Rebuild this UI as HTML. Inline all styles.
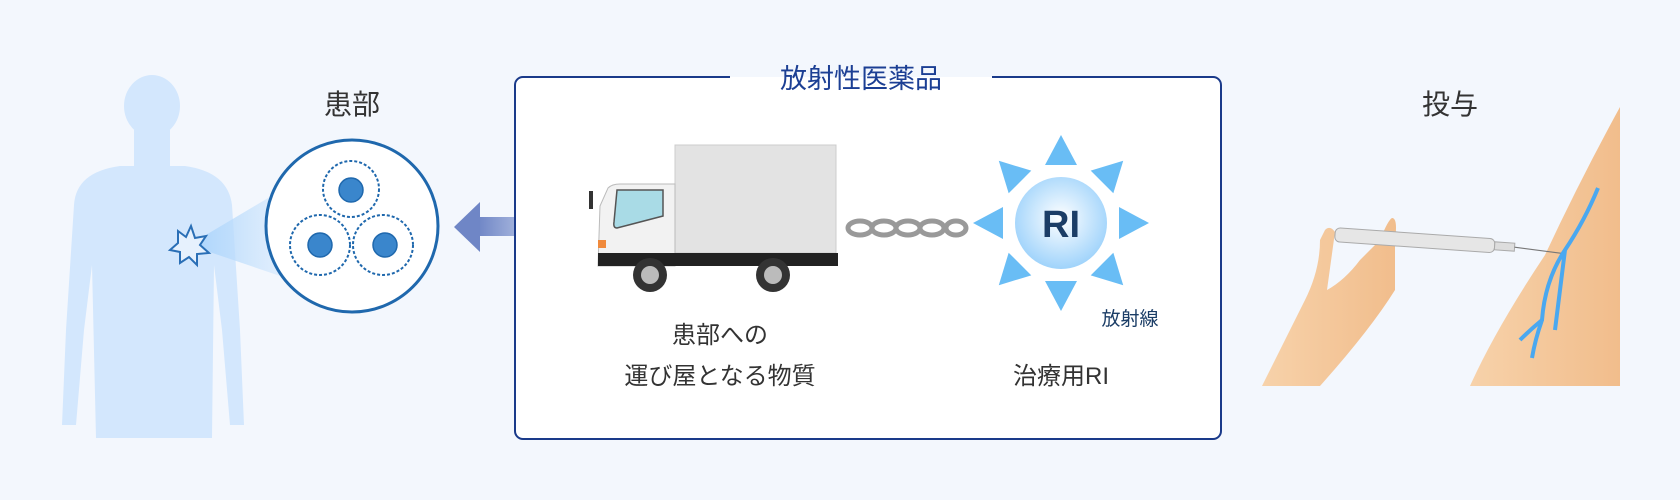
<!DOCTYPE html>
<html><head><meta charset="utf-8"><style>
html,body{margin:0;padding:0;background:#f3f7fd;}
svg{display:block}
text{font-family:"Liberation Sans","Noto Sans CJK JP",sans-serif;}
</style></head><body>
<svg width="1680" height="500" viewBox="0 0 1680 500" xmlns="http://www.w3.org/2000/svg">
<defs>
<linearGradient id="ag" x1="0" x2="1"><stop offset="0" stop-color="#6f86c6"/><stop offset="1" stop-color="#6f86c6" stop-opacity="0"/></linearGradient>
<linearGradient id="beam" x1="0" x2="1"><stop offset="0" stop-color="#a9d3fb"/><stop offset="1" stop-color="#cfe6fd" stop-opacity="0.4"/></linearGradient>
<radialGradient id="ri" cx="0.5" cy="0.45" r="0.55"><stop offset="0" stop-color="#ffffff"/><stop offset="1" stop-color="#9fd3fb"/></radialGradient>
<linearGradient id="skin" x1="0" x2="1"><stop offset="0" stop-color="#f7d2aa"/><stop offset="1" stop-color="#f1bd8c"/></linearGradient>
</defs>
<rect width="1680" height="500" fill="#f3f7fd"/>
<!-- human silhouette -->
<g fill="#d3e7fd">
<ellipse cx="152" cy="106" rx="28" ry="31"/>
<rect x="134" y="130" width="36" height="40"/>
<path d="M74 205 Q76 172 120 166 L185 166 Q228 172 232 205 L240 330 L244 425 L230 425 L222 330 L214 265 L212 438 L96 438 L92 265 L84 330 L76 425 L62 425 L66 330 Z"/>
</g>
<!-- beam -->
<path d="M189 245 L290 185 L292 280 Z" fill="url(#beam)"/>
<path d="M178 231 L186 237 L191 226 L195 238 L206 236 L200 245 L209 253 L197 254 L197 265 L189 257 L180 263 L180 252 L170 250 L178 243 Z" fill="#e6f1fd" stroke="#2a6fb6" stroke-width="2"/>
<!-- circle -->
<circle cx="352" cy="226" r="86" fill="#fff" stroke="#1f68ad" stroke-width="3"/>
<g fill="#fff" stroke="#1f68ad" stroke-width="2">
<circle cx="351" cy="189" r="28" stroke-dasharray="3 2"/>
<circle cx="320" cy="245" r="30" stroke-dasharray="3 2"/>
<circle cx="383" cy="245" r="30" stroke-dasharray="3 2"/>
</g>
<g fill="#3a86cc" stroke="#1f68ad" stroke-width="1.5">
<circle cx="351" cy="190" r="12"/><circle cx="320" cy="245" r="12"/><circle cx="385" cy="245" r="12"/>
</g>
<text x="352" y="114" font-size="28" fill="#333" text-anchor="middle">患部</text>
<!-- arrow -->
<rect x="478" y="217" width="100" height="19" fill="url(#ag)"/>
<path d="M454 227 L480 202 L480 252 Z" fill="#6f86c6"/>
<!-- box -->
<rect x="515" y="77" width="706" height="362" rx="8" fill="#fff" stroke="#1a3a8a" stroke-width="2"/>
<rect x="730" y="66" width="262" height="11" fill="#f3f7fd"/>
<rect x="730" y="77" width="262" height="13" fill="#fff"/>
<text x="861" y="88" font-size="27" fill="#1c3f94" text-anchor="middle">放射性医薬品</text>
<!-- truck -->
<g transform="translate(0 -12)">
<rect x="675" y="157" width="161" height="108" fill="#e3e3e3" stroke="#ccc"/>
<path d="M600 218 L608 200 Q612 196 620 196 L675 196 L675 278 L598 278 Z" fill="#f2f2f2" stroke="#bbb"/>
<path d="M617 202 L663 202 L663 228 L617 240 Q613 240 614 234 Z" fill="#a9dbe6" stroke="#555" stroke-width="1.5"/>
<rect x="589" y="203" width="4" height="18" fill="#333"/>
<rect x="598" y="252" width="8" height="8" fill="#f08a3c"/>
<rect x="598" y="265" width="240" height="13" fill="#222"/>
<circle cx="650" cy="287" r="17" fill="#333"/><circle cx="650" cy="287" r="9" fill="#bbb"/>
<circle cx="773" cy="287" r="17" fill="#333"/><circle cx="773" cy="287" r="9" fill="#bbb"/>
</g>
<!-- chain -->
<g fill="none" stroke="#999" stroke-width="5">
<ellipse cx="860" cy="228" rx="12" ry="7"/><ellipse cx="884" cy="228" rx="12" ry="7"/><ellipse cx="908" cy="228" rx="12" ry="7"/><ellipse cx="932" cy="228" rx="12" ry="7"/><ellipse cx="956" cy="228" rx="10" ry="7"/>
</g>
<!-- RI -->
<g fill="#69bdf5" transform="translate(1061 223)">
<path d="M0 -88 L-16 -58 L16 -58 Z"/>
<path d="M0 -88 L-16 -58 L16 -58 Z" transform="rotate(45)"/>
<path d="M0 -88 L-16 -58 L16 -58 Z" transform="rotate(90)"/>
<path d="M0 -88 L-16 -58 L16 -58 Z" transform="rotate(135)"/>
<path d="M0 -88 L-16 -58 L16 -58 Z" transform="rotate(180)"/>
<path d="M0 -88 L-16 -58 L16 -58 Z" transform="rotate(225)"/>
<path d="M0 -88 L-16 -58 L16 -58 Z" transform="rotate(270)"/>
<path d="M0 -88 L-16 -58 L16 -58 Z" transform="rotate(315)"/>
<circle r="46" fill="url(#ri)"/>
</g>
<text x="1061" y="237" font-size="38" font-weight="bold" fill="#1b3d66" text-anchor="middle">RI</text>
<text x="1130" y="325" font-size="19" fill="#1b3d66" text-anchor="middle">放射線</text>
<text x="720" y="343" font-size="24" fill="#333" text-anchor="middle">患部への</text>
<text x="720" y="384" font-size="24" fill="#333" text-anchor="middle">運び屋となる物質</text>
<text x="1061" y="384" font-size="24" fill="#333" text-anchor="middle">治療用RI</text>
<!-- administration -->
<text x="1450" y="114" font-size="28" fill="#333" text-anchor="middle">投与</text>
<path d="M1620 107 L1620 386 L1470 386 Q1495 330 1545 255 Q1580 180 1620 107 Z" fill="url(#skin)"/>
<path d="M1262 386 Q1290 330 1305 300 Q1320 270 1320 240 L1325 230 Q1330 225 1335 232 L1327 290 Q1345 280 1360 260 L1380 240 Q1388 220 1392 218 Q1398 218 1395 240 L1395 290 Q1370 330 1320 386 Z" fill="url(#skin)"/>
<g transform="rotate(4 1340 235)">
<rect x="1335" y="228" width="160" height="14" rx="5" fill="#e6e6e6" stroke="#aaa"/>
<rect x="1495" y="231" width="20" height="8" fill="#ddd" stroke="#aaa"/>
<line x1="1515" y1="235" x2="1565" y2="238" stroke="#777" stroke-width="1.2"/>
</g>
<path d="M1598 188 Q1585 220 1565 250 Q1560 290 1555 330 M1565 250 Q1545 280 1542 320 Q1530 330 1520 340 M1542 320 Q1535 340 1532 358" fill="none" stroke="#4aa8f0" stroke-width="4"/>
</svg>
</body></html>
